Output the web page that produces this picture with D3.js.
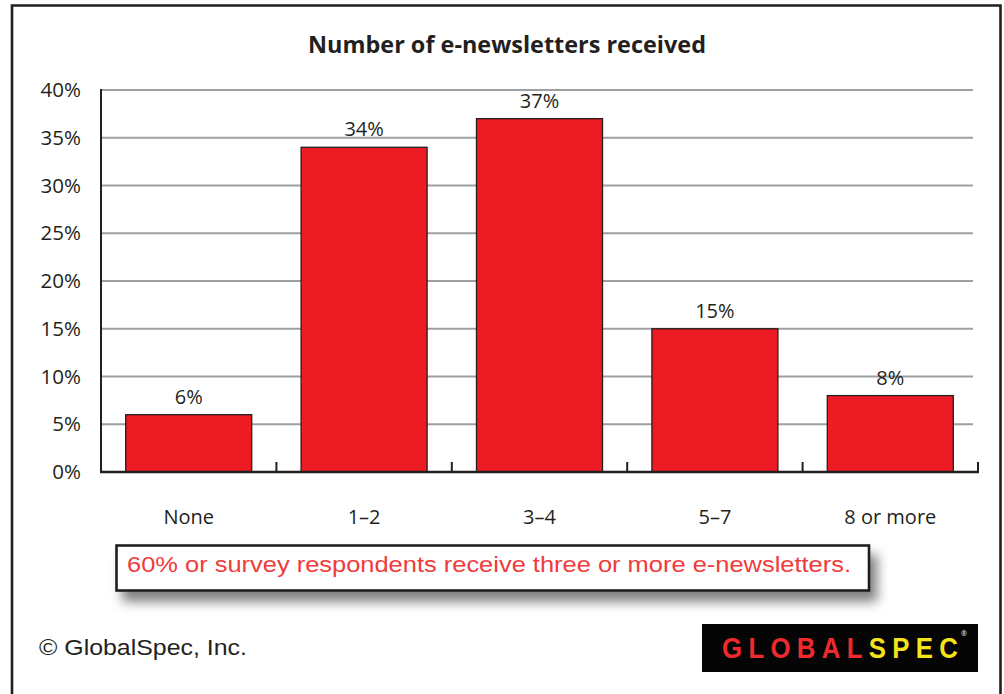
<!DOCTYPE html>
<html>
<head>
<meta charset="utf-8">
<script src="https://cdn.jsdelivr.net/npm/d3@7"></script>
<style>
  html, body { margin: 0; padding: 0; background: #fff; }
  svg { display: block; }
</style>
</head>
<body>
<svg id="chart" width="1004" height="694"></svg>
<script>
// ---- data ----
const categories = ["None", "1\u20132", "3\u20134", "5\u20137", "8 or more"];
const values = [6, 34, 37, 15, 8];
const yTicks = [0, 5, 10, 15, 20, 25, 30, 35, 40];
const title = "Number of e-newsletters received";
const note = "60% or survey respondents receive three or more e-newsletters.";
const copyright = "\u00A9 GlobalSpec, Inc.";

const svg = d3.select("#chart");
const font = "'Open Sans', 'Noto Sans', sans-serif";
const dark = "#231f20";

// frame
svg.append("path")
  .attr("d", "M12,694 V5.5 H1000.5 V694")
  .attr("fill", "none").attr("stroke", dark).attr("stroke-width", 2.6);

// scales
const x = d3.scaleBand().domain(categories).range([101, 978])
  .paddingInner(0.2816).paddingOuter(0.1408);
const y = d3.scaleLinear().domain([0, 40]).range([472, 90]);

// gridlines
svg.append("g").selectAll("line").data(yTicks.filter(d => d > 0)).join("line")
  .attr("x1", 101).attr("x2", 973)
  .attr("y1", d => y(d)).attr("y2", d => y(d))
  .attr("stroke", "#9d9fa2").attr("stroke-width", 2);

// y axis
const yAxis = d3.axisLeft(y).tickValues(yTicks).tickFormat(d => d + "%").tickSize(0).tickPadding(20);
const gy = svg.append("g").attr("transform", "translate(101,0)").call(yAxis);
gy.select(".domain").remove();
gy.selectAll("text").attr("font-family", font).attr("font-size", 20.5).attr("fill", dark);

// bars
svg.append("g").selectAll("rect").data(values).join("rect")
  .attr("x", (d, i) => x(categories[i]))
  .attr("width", x.bandwidth())
  .attr("y", d => y(d))
  .attr("height", d => y(0) - y(d))
  .attr("fill", "#ed1c24").attr("stroke", dark).attr("stroke-width", 1.3);

// value labels
svg.append("g").selectAll("text").data(values).join("text")
  .attr("x", (d, i) => x(categories[i]) + x.bandwidth() / 2)
  .attr("y", d => y(d) - 11)
  .attr("text-anchor", "middle")
  .attr("font-family", font).attr("font-size", 20).attr("fill", dark)
  .text(d => d + "%");

// axis lines
svg.append("line").attr("x1", 101).attr("x2", 101).attr("y1", 89).attr("y2", 473)
  .attr("stroke", dark).attr("stroke-width", 2);
svg.append("line").attr("x1", 100).attr("x2", 979).attr("y1", 472).attr("y2", 472)
  .attr("stroke", dark).attr("stroke-width", 2.4);
// category boundary ticks
const bounds = categories.map(c => x(c) - x.step() * x.paddingInner() / 2).slice(1)
  .concat([978]);
svg.append("g").selectAll("line").data(bounds).join("line")
  .attr("x1", d => d).attr("x2", d => d).attr("y1", 462).attr("y2", 472)
  .attr("stroke", dark).attr("stroke-width", 2);

// category labels
svg.append("g").selectAll("text").data(categories).join("text")
  .attr("x", d => x(d) + x.bandwidth() / 2)
  .attr("y", 524)
  .attr("text-anchor", "middle")
  .attr("font-family", font).attr("font-size", 20).attr("fill", dark)
  .text(d => d);

// title
svg.append("text").attr("x", 507).attr("y", 53)
  .attr("text-anchor", "middle")
  .attr("font-family", font).attr("font-weight", "bold").attr("font-size", 23)
  .attr("fill", dark)
  .attr("textLength", 398).attr("lengthAdjust", "spacingAndGlyphs")
  .text(title);

// note box with shadow
const defs = svg.append("defs");
const f = defs.append("filter").attr("id", "sh").attr("x", "-10%").attr("y", "-60%").attr("width", "125%").attr("height", "230%");
f.append("feGaussianBlur").attr("in", "SourceAlpha").attr("stdDeviation", 6).attr("result", "b");
f.append("feOffset").attr("in", "b").attr("dx", 7).attr("dy", 10).attr("result", "o");
f.append("feComponentTransfer").attr("in", "o").attr("result", "c")
  .append("feFuncA").attr("type", "linear").attr("slope", 0.5);
const fm = f.append("feMerge");
fm.append("feMergeNode").attr("in", "c");
fm.append("feMergeNode").attr("in", "SourceGraphic");

svg.append("rect").attr("x", 116.5).attr("y", 545.5).attr("width", 752.5).attr("height", 45)
  .attr("fill", "#fff").attr("stroke", dark).attr("stroke-width", 2.6)
  .attr("filter", "url(#sh)");
svg.append("text").attr("x", 127).attr("y", 572)
  .attr("font-family", "'Liberation Sans', Arial, sans-serif").attr("font-size", 22)
  .attr("fill", "#ef3b3a")
  .attr("textLength", 724).attr("lengthAdjust", "spacingAndGlyphs")
  .text(note);

// copyright
svg.append("text").attr("x", 39).attr("y", 655)
  .attr("font-family", "'Liberation Sans', Arial, sans-serif").attr("font-size", 22)
  .attr("fill", dark)
  .attr("textLength", 208).attr("lengthAdjust", "spacingAndGlyphs")
  .text(copyright);

// logo
svg.append("rect").attr("x", 702).attr("y", 624).attr("width", 276).attr("height", 48).attr("fill", "#050505");
const sx = 0.86;
const logo = svg.append("text")
  .attr("transform", `translate(722,658) scale(${sx},1)`)
  .attr("font-family", "'Liberation Sans', Arial, sans-serif")
  .attr("font-weight", "bold").attr("font-size", 30)
  .attr("textLength", 236 / sx).attr("lengthAdjust", "spacing");
logo.append("tspan").attr("fill", "#ee2a2e").text("GLOBAL");
logo.append("tspan").attr("fill", "#f5e21b").text("SPEC");
svg.append("text").attr("x", 961).attr("y", 636)
  .attr("font-family", font).attr("font-size", 7).attr("fill", "#fff").text("\u00AE");
</script>
</body>
</html>
